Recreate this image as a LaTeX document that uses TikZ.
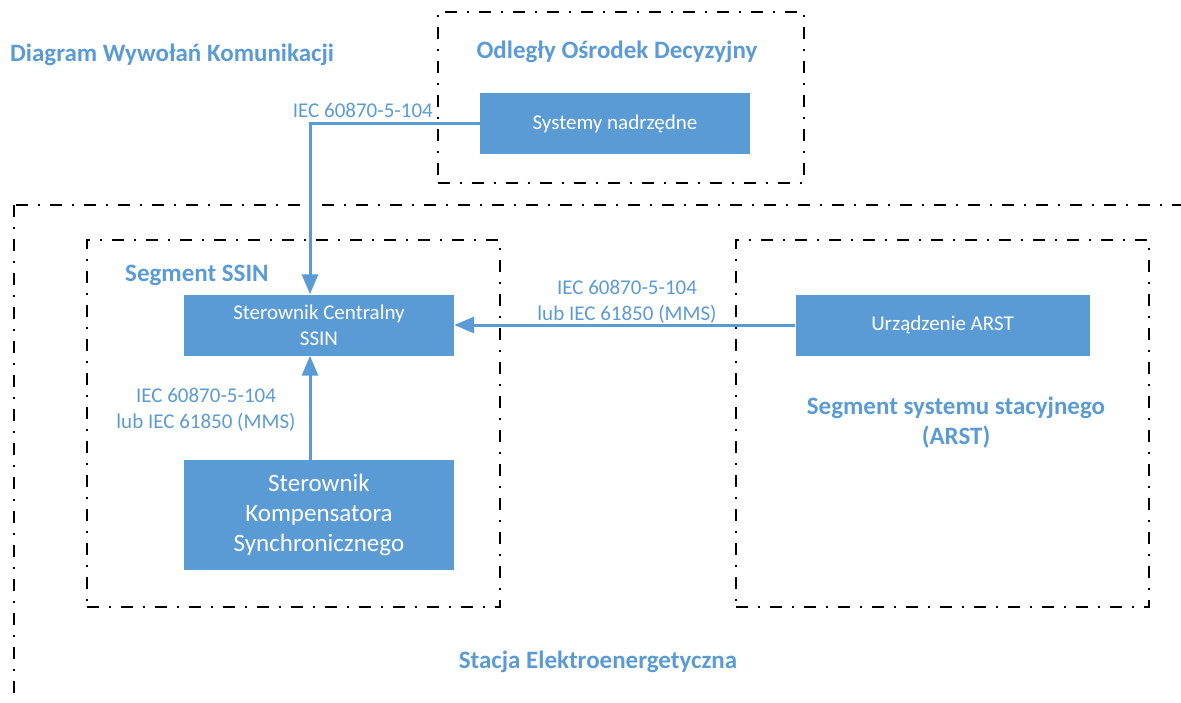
\documentclass[tikz,border=0pt]{standalone}
\usepackage{fontspec}
\setmainfont{Carlito}
\usetikzlibrary{arrows.meta}
\definecolor{niebieski}{HTML}{5B9BD5}

\begin{document}
\begin{tikzpicture}[x=1pt,y=-1pt,
blok/.style={fill=niebieski,text=white,inner sep=0pt,align=center,minimum width=270pt,minimum height=61pt,font=\fontsize{21}{26}\selectfont},
segment/.style={draw=black,line width=2pt,dash pattern=on 12pt off 10pt on 2pt off 10pt,minimum width=413pt,minimum height=367pt,inner sep=0pt},
tytul/.style={text=niebieski,font=\bfseries\fontsize{25}{30}\selectfont,align=center,inner sep=0pt},
opis/.style={text=niebieski,font=\fontsize{21}{26}\selectfont,align=center,inner sep=0pt}
]

\tikzstyle{link} = [draw=niebieski,line width=3pt,-{Triangle[length=20pt,width=16pt]}]

  \useasboundingbox (0,0) rectangle (1181,702);

  % ramki
  \draw[segment] (14,205) rectangle (1220,740);
  \node (osrodek)   [segment,minimum width=366pt,minimum height=171pt] at (620.5,97.5) {};
  \node (ssin)   [segment] at (293,423) {};
  \node (arst)   [segment] at (942.5,423) {};

  % bloki
  \node (systemy)   [blok] at (615,123.5) {Systemy nadrzędne};
  \node (centralny)   [blok] at (319,325) {Sterownik Centralny\\SSIN};
  \node (kompensator)   [blok,minimum height=110pt,font=\fontsize{25}{30}\selectfont] at (319,515) {Sterownik\\Kompensatora\\Synchronicznego};
  \node (urzadzenie)   [blok,minimum width=294pt] at (942.5,325) {Urządzenie ARST};

  % tytuly
  \node (diagram)   [tytul,anchor=west] at (10,55) {Diagram Wywołań Komunikacji};
  \node (odlegly)   [tytul] at (617,52) {Odległy Ośrodek Decyzyjny};
  \node (tssin)   [tytul,anchor=west] at (125,275) {Segment SSIN};
  \node (tarst)   [tytul] at (956,423) {Segment systemu stacyjnego\\(ARST)};
  \node (stacja)   [tytul] at (598,662) {Stacja Elektroenergetyczna};

  % opisy
  \node (iec1)   [opis,anchor=east] at (433,110) {IEC 60870-5-104};
  \node (iec2)   [opis] at (206,410) {IEC 60870-5-104\\lub IEC 61850 (MMS)};
  \node (iec3)   [opis] at (627,302) {IEC 60870-5-104\\lub IEC 61850 (MMS)};

  \coordinate (zakret) at (310,123.5);

\path[link] (systemy.west) -- (zakret) -- (zakret |- centralny.north);
\path[link] (kompensator.north -| zakret) -- (centralny.south -| zakret);
\path[link] (urzadzenie.west) -- (centralny.east);

\end{tikzpicture}
\end{document}
